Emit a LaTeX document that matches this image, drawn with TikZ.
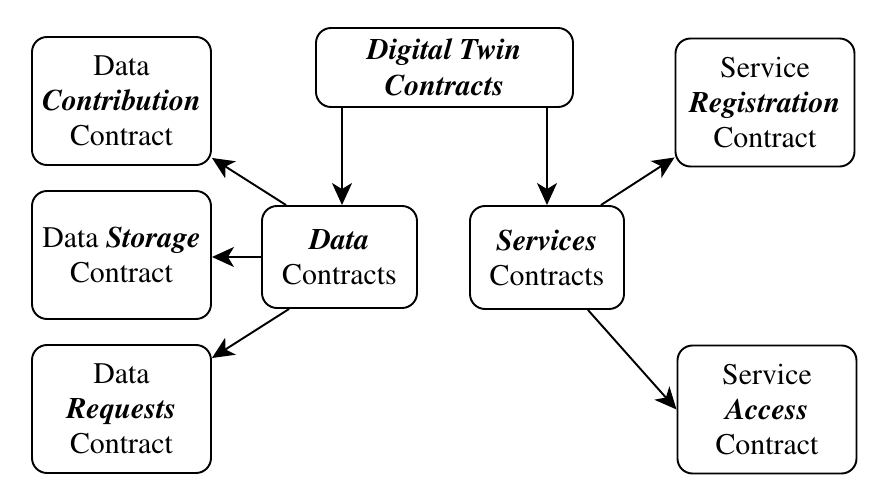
\documentclass[tikz,border=0pt]{standalone}
\usepackage[T1]{fontenc}
\usepackage{mathptmx}
\usepackage{tikz}
\usetikzlibrary{arrows.meta, positioning, calc}
\newcommand{\bi}[1]{\textbf{\textit{#1}}}

\begin{document}
\begin{tikzpicture}[
        box/.style={rectangle, rounded corners=0.3cm, draw, line width=1.1pt,
                    align=center, font=\fontsize{17}{20}\selectfont,
                    inner sep=0pt},
        small/.style={box, minimum width=3.58cm, minimum height=2.56cm},
        arr/.style={-{Stealth[length=0.44cm, width=0.4cm, inset=0.12cm]},
                    line width=1.1pt},
      ]
        \useasboundingbox (0,0) rectangle (17.74,9.92);

        \node[box, minimum width=5.14cm, minimum height=1.58cm] (twin)
          at (8.89, 8.57) {\bi{Digital Twin}\\ \bi{Contracts}};

        \node[box, minimum width=3.10cm, minimum height=2.04cm] (data)
          at (6.79, 4.78) {\bi{Data}\\ Contracts};
        \node[box, minimum width=3.08cm, minimum height=2.06cm] (serv)
          at (10.94, 4.77) {\bi{Services}\\ Contracts};

        \node[small] (contrib) at (2.43, 7.90) {Data\\ \bi{Contribution}\\ Contract};
        \node[small] (store)   at (2.43, 4.82) {Data \bi{Storage}\\ Contract};
        \node[small] (req)     at (2.43, 1.74) {Data\\ \bi{Requests}\\ Contract};

        \node[small] (reg)     at (15.30, 7.87) {Service\\ \bi{Registration}\\ Contract};
        \node[small] (acc)     at (15.34, 1.73) {Service\\ \bi{Access}\\ Contract};

        \draw[arr] ([xshift=0.05cm]twin.south -| data.north) -- ([xshift=0.05cm]data.north);
        \draw[arr] (twin.south -| serv.north) -- (serv.north);

        \draw[arr] ([xshift=0.5cm]data.north west)  -- ([yshift=0.16cm]contrib.south east);
        \draw[arr] (data.west)                      -- (data.west -| store.east);
        \draw[arr] ([xshift=0.56cm]data.south west) -- ([yshift=-0.28cm]req.north east);

        \draw[arr] ([xshift=-0.48cm]serv.north east) -- ([yshift=0.2cm]reg.south west);
        \draw[arr] ([xshift=-0.74cm]serv.south east) -- (acc.west);
      \end{tikzpicture}
\end{document}
